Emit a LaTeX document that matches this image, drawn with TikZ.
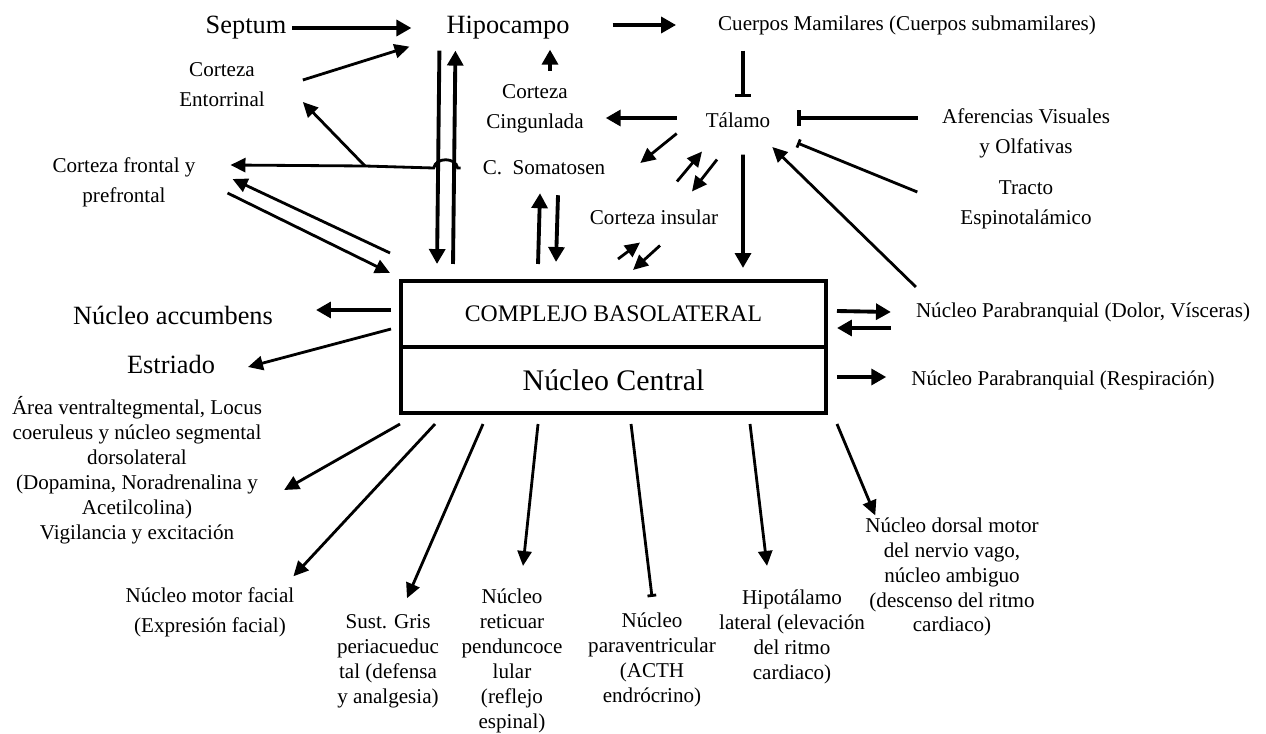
\documentclass[tikz,border=0pt]{standalone}
\usepackage{fontspec}
\setmainfont{Liberation Serif}
\usetikzlibrary{arrows.meta}

\begin{document}
\begin{tikzpicture}[x=0.02cm, y=-0.02cm,
	lbl/.style={font=\fontsize{12}{14.2}\selectfont, align=center, inner sep=1pt},
	lblw/.style={font=\fontsize{12}{17}\selectfont, align=center, inner sep=1pt},
	grande/.style={font=\fontsize{15}{18}\selectfont, inner sep=1pt},
	caja/.style={draw, line width=2.3pt, minimum width=8.5cm, minimum height=1.32cm, inner sep=0pt},
	flecha/.style={line width=2.2pt, -{Triangle[length=8.5pt,width=9pt]}},
	flechad/.style={line width=1.6pt, -{Triangle[length=8.5pt,width=8pt]}},
	tope/.style={line width=2.2pt, -{Bar[width=9pt]}},
	topec/.style={line width=1.6pt, -{Bar[width=5pt]}}]

		\useasboundingbox (0,0) rectangle (1266,733);

		% Estructuras superiores
		\node[grande] (septum) at (246,28) {Septum};
		\node[grande] (hipo) at (508,28) {Hipocampo};
		\node[lbl] (mamil) at (907,25) {Cuerpos Mamilares (Cuerpos submamilares)};
		\node[lblw] (entor) at (222,85) {Corteza\\Entorrinal};
		\node[lblw] (cing) at (535,109) {Corteza\\Cingunlada};
		\node[lbl] (talamo) at (738,120) {Tálamo};
		\node[lblw] (afer) at (1026,133) {Aferencias Visuales\\y Olfativas};
		\node[lblw] (tracto) at (1026,205) {Tracto\\Espinotalámico};
		\node[lblw] (frontal) at (124,182) {Corteza frontal y\\prefrontal};
		\node[lbl] (soma) at (544,168) {C.\enspace Somatosen};
		\node[lbl] (insular) at (654,217) {Corteza insular};

		% Amígdala
		\node[caja, font=\fontsize{13.5}{16}\selectfont] (bla) at (613.5,314) {COMPLEJO BASOLATERAL};
		\node[caja, font=\fontsize{17}{20}\selectfont] (nc) at (613.5,380) {Núcleo Central};

		% Eferencias
		\node[grande] (acc) at (173,315) {Núcleo accumbens};
		\node[grande] (estr) at (171,364) {Estriado};
		\node[lbl] (area) at (137,470) {Área ventraltegmental, Locus\\coeruleus y núcleo segmental\\dorsolateral\\(Dopamina, Noradrenalina y\\Acetilcolina)\\Vigilancia y excitación};
		\node[lblw] (facial) at (210,612) {Núcleo motor facial\\(Expresión facial)};
		\node[lbl] (gris) at (388,661) {Sust. Gris\\periacueduc\\tal (defensa\\y analgesia)};
		\node[lbl] (retic) at (512,661) {Núcleo\\reticuar\\penduncoce\\lular\\(reflejo\\espinal)};
		\node[lbl] (paraven) at (652,660) {Núcleo\\paraventricular\\(ACTH\\endrócrino)};
		\node[lbl] (hipot) at (792,637) {Hipotálamo\\lateral (elevación\\del ritmo\\cardiaco)};
		\node[lbl] (dorsal) at (952,577) {Núcleo dorsal motor\\del nervio vago,\\núcleo ambiguo\\(descenso del ritmo\\cardiaco)};
		\node[lbl] (pbdol) at (1083,312) {Núcleo Parabranquial (Dolor, Vísceras)};
		\node[lbl] (pbres) at (1063,380) {Núcleo Parabranquial (Respiración)};

		% Circuito superior
		\draw[flecha] ([shift={(4,0)}]septum.east) -- ([shift={(-33,0)}]hipo.west);
		\draw[flechad] ([shift={(36,-5)}]entor.east) -- ([shift={(-35,5)}]hipo.south west);
		\draw[flecha] ([shift={(41,-3)}]hipo.east) -- ([shift={(-40,0)}]mamil.west);
		\draw[tope] ([shift={(-164,14)}]mamil.south) -- ([shift={(5,-13)}]talamo.north);
		\draw[flecha] ([shift={(-27,-2)}]talamo.west) -- ([shift={(20,9)}]cing.east);
		\draw[flecha] ([shift={(15,-12)}]cing.north) -- ([shift={(42,8)}]hipo.south);
		\draw[tope] ([shift={(-22,-15)}]afer.west) -- ([shift={(25,-2)}]talamo.east);
		\draw[topec] ([shift={(-41,-13)}]tracto.west) -- ([shift={(25,23)}]talamo.east);
		\draw[flechad] ([shift={(2,-25)}]pbdol.west) -- ([shift={(0,27)}]talamo.east);

		% Hipocampo <-> complejo basolateral
		\draw[flecha] ([shift={(-5,9)}]hipo.south west) -- ([shift={(38,-15)}]bla.north west);
		\draw[flecha] ([shift={(54,-15)}]bla.north west) -- ([shift={(11,9)}]hipo.south west);

		% Corteza somatosensorial hacia corteza frontal y entorrinal
		\coordinate (cruce) at (365,166);
		\draw[flechad] ([shift={(-20,0)}]soma.west) -- ++(-3,0)
			.. controls +(-2,-11) and +(2,-11) .. ++(-24,0) -- (cruce)
			-- ([shift={(33,-17)}]frontal.east);
		\draw[flechad] (cruce) -- ([shift={(36,17)}]entor.east);

		% Corteza frontal <-> complejo basolateral
		\draw[flechad] ([shift={(-9,-26)}]bla.north west) -- ([shift={(35,-3)}]frontal.east);
		\draw[flechad] ([shift={(30,11)}]frontal.east) -- ([shift={(-9,-6)}]bla.north west);

		% Somatosensorial, insular y tálamo
		\draw[flecha] ([shift={(139,-15)}]bla.north west) -- ([shift={(-4,16)}]soma.south);
		\draw[flecha] ([shift={(14,18)}]soma.south) -- ([shift={(157,-17)}]bla.north west);
		\draw[flechad] ([shift={(-27,4)}]talamo.south west) -- ([shift={(33,-5)}]soma.east);
		\draw[flechad] ([shift={(23,-26)}]insular.north) -- ([shift={(-36,22)}]talamo.south);
		\draw[flechad] ([shift={(-21,30)}]talamo.south) -- ([shift={(38,-16)}]insular.north);
		\draw[flecha] ([shift={(5,25)}]talamo.south) -- ([shift={(129.5,-11)}]bla.north);
		\draw[flechad] ([shift={(219,-20)}]bla.north west) -- ([shift={(-14,16)}]insular.south);
		\draw[flechad] ([shift={(6,19)}]insular.south) -- ([shift={(234,-9)}]bla.north west);

		% Salidas hacia la izquierda
		\draw[flecha] ([shift={(-8,-4)}]bla.west) -- ([shift={(41,-5)}]acc.east);
		\draw[flechad] ([shift={(-8,15)}]bla.west) -- ([shift={(31,3)}]estr.east);

		% Salidas del núcleo central
		\draw[flechad] ([shift={(1,9)}]nc.south west) -- ([shift={(20,20)}]area.east);
		\draw[flechad] ([shift={(36,9)}]nc.south west) -- ([shift={(-3,-9)}]facial.north east);
		\draw[flechad] ([shift={(84,9)}]nc.south west) -- ([shift={(19,-14)}]gris.north);
		\draw[flechad] ([shift={(139,9)}]nc.south west) -- ([shift={(11,-21)}]retic.north);
		\draw[topec] ([shift={(232,9)}]nc.south west) -- ([shift={(0,-14)}]paraven.north);
		\draw[flechad] ([shift={(351,9)}]nc.south west) -- ([shift={(-25,-22)}]hipot.north);
		\draw[flechad] ([shift={(9,9)}]nc.south east) -- ([shift={(12,0)}]dorsal.north west);

		% Parabranquial
		\draw[flecha] ([shift={(9,-3)}]bla.east) -- ([shift={(-23,0)}]pbdol.west);
		\draw[flecha] ([shift={(-23,16)}]pbdol.west) -- ([shift={(9,14)}]bla.east);
		\draw[flecha] ([shift={(9,-3)}]nc.east) -- ([shift={(-23,-3)}]pbres.west);

	\end{tikzpicture}
\end{document}
